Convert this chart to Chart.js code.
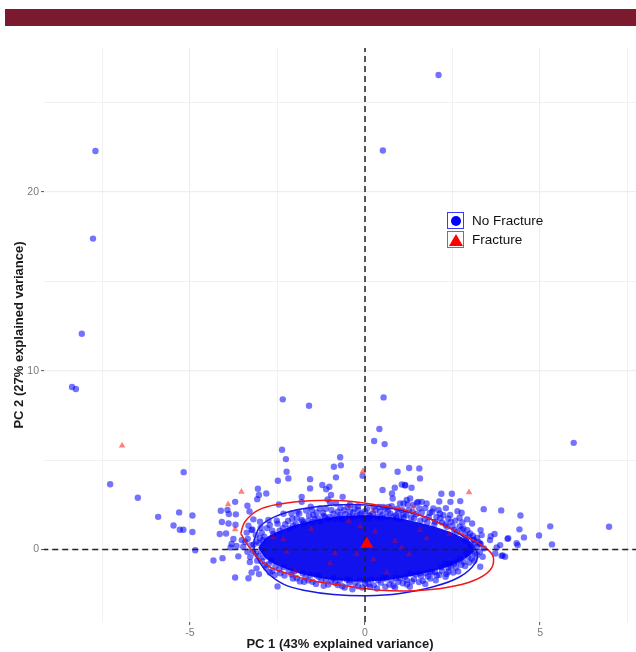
<!DOCTYPE html>
<html>
<head>
<meta charset="utf-8">
<title>PCA fracture</title>
<script src="https://cdn.jsdelivr.net/npm/chart.js@4/dist/chart.umd.js"></script>
<style>
    body { margin: 0; background: #fff; font-family: "Liberation Sans", Arial, sans-serif; }
    #wrap { position: relative; width: 636px; height: 652px; overflow: hidden; }
    #banner { position: absolute; left: 5px; top: 9px; width: 631px; height: 17px; background: #7b1a2f; }
    .key { position: absolute; left: 447px; width: 15px; height: 15px; border: 1.5px solid; }
    .key-blue { top: 212px; border-color: #3a3aff; }
    .key-red { top: 231px; border-color: #ff3a3a; }
    .dot { position: absolute; left: 2.5px; top: 2.5px; width: 10px; height: 10px; border-radius: 50%; background: #0000ff; }
    .tri { position: absolute; left: 0.5px; top: 1.5px; width: 0; height: 0; border-left: 7px solid transparent; border-right: 7px solid transparent; border-bottom: 12px solid #ff0000; }
    .label { position: absolute; left: 472px; font-size: 13.5px; color: #111; line-height: 16px; }
</style>
</head>
<body>
<div id="wrap">
    <canvas id="chart" width="636" height="652"></canvas>
    <div id="banner"></div>
    <div class="key key-blue"><div class="dot"></div></div>
    <div class="key key-red"><div class="tri"></div></div>
    <div class="label" style="top:213px">No Fracture</div>
    <div class="label" style="top:232px">Fracture</div>
</div>
<script>
// Axis setup
const xBounds = [-9.17, 7.74];
const yBounds = [-4.05, 28.05];
const xTicks = [-7.5, -5, -2.5, 0, 2.5, 5, 7.5];
const yTicks = [0, 5, 10, 15, 20, 25];
const xLabelled = [-5, 0, 5];
const yLabelled = [0, 10, 20];
const xTitle = 'PC 1 (43% explained variance)';
const yTitle = 'PC 2 (27% explained variance)';

// No Fracture points
const farPoints = [
    [-7.70, 22.29], [-7.77, 17.39], [-8.09, 12.07], [-8.37, 9.09], [-8.26, 8.98],
    [2.10, 26.54], [0.51, 22.32], [-2.35, 8.40], [-1.60, 8.04], [0.53, 8.51],
    [0.41, 6.74], [0.26, 6.07], [0.56, 5.90], [5.96, 5.97], [6.97, 1.28],
    [-7.28, 3.65], [-6.49, 2.90], [-5.18, 4.33], [-5.91, 1.83], [-5.31, 2.08],
    [-4.93, 1.91], [-5.47, 1.35], [-5.29, 1.11], [-5.19, 1.11], [-4.93, 0.98], [-4.85, -0.04]
];
const upperPoints = [
    [-2.37, 5.58], [-2.26, 5.06], [-0.71, 5.16], [-0.89, 4.63], [-0.69, 4.71],
    [0.52, 4.71], [0.93, 4.35], [1.26, 4.56], [1.55, 4.54], [-2.24, 4.35],
    [-2.19, 3.98], [-2.49, 3.85], [-1.57, 3.94], [-0.83, 4.04], [-0.07, 4.13], [1.57, 3.98],
    [-1.22, 3.61], [-1.02, 3.51], [-1.11, 3.37], [0.50, 3.33], [1.05, 3.64], [1.15, 3.59],
    [0.85, 3.46], [0.77, 3.14], [0.79, 2.86], [-0.97, 3.05], [-1.07, 2.81], [-0.64, 2.95],
    [-1.00, 2.64], [-1.55, 2.40], [-1.29, 2.30], [-0.83, 2.58], [-0.43, 2.49], [-0.19, 2.21],
    [0.24, 2.39], [0.52, 2.39], [0.67, 2.39], [1.00, 2.58], [1.19, 2.77], [-1.81, 2.95],
    [-1.81, 1.65], [-1.48, 1.93], [-1.14, 1.80], [-0.71, 1.93], [-0.43, 2.12], [0.10, 1.93],
    [0.43, 2.12], [0.90, 1.74], [1.10, 1.98], [-1.81, 2.67], [-1.57, 3.42]
];
const leftPoints = [
    [-3.06, 3.40], [-3.03, 3.05], [-3.08, 2.82], [-2.82, 3.14], [-3.71, 2.67], [-3.36, 2.45],
    [-3.30, 2.13], [-4.12, 2.17], [-3.93, 2.21], [-3.89, 1.99], [-3.69, 1.97], [-2.46, 2.52],
    [-4.09, 1.54], [-3.90, 1.46], [-3.70, 1.39], [-4.15, 0.87], [-3.97, 0.90], [-3.33, 1.33],
    [-3.24, 1.09], [-3.19, 1.69], [-3.00, 1.56], [-3.76, 0.59], [-3.52, 0.53], [-3.81, 0.31],
    [-3.67, 0.20], [-3.84, 0.12], [-3.48, 0.16], [-4.33, -0.61], [-4.07, -0.48], [-3.62, -0.38],
    [-3.29, -0.70], [-3.71, -1.56], [-3.33, -1.60], [-3.24, -1.28], [-3.03, -1.37], [-2.50, -2.06],
    [-3.10, -1.05], [-2.86, -0.87], [-2.76, 1.65], [-2.33, 2.00], [-2.10, 2.02], [-1.93, 2.11]
];
const rightPoints = [
    [5.29, 1.30], [5.34, 0.29], [4.97, 0.79], [4.54, 0.68], [4.41, 1.13], [4.44, 1.91],
    [3.89, 2.19], [4.09, 0.63], [4.33, 0.36], [4.36, 0.25], [3.86, 0.25], [3.93, -0.33], [4.00, -0.40],
    [1.14, 3.61], [1.33, 3.46], [2.18, 3.12], [2.48, 3.12], [2.12, 2.69], [2.44, 2.67], [2.72, 2.71],
    [1.29, 2.86], [2.31, 2.32], [3.39, 2.26], [2.64, 2.15], [2.76, 2.06], [2.70, 1.78], [2.92, 1.69],
    [3.06, 1.46], [3.30, 1.09], [3.70, 0.87], [3.59, 0.75], [4.07, 0.60], [3.57, 0.53], [3.33, 0.81],
    [3.76, 0.12], [3.40, 0.07], [3.29, 0.34], [3.90, -0.35], [3.72, -0.22], [3.36, -0.40], [2.95, -0.40],
    [3.29, -0.96], [2.81, -0.68], [2.62, -0.68], [2.43, -0.77], [2.29, -0.77], [2.38, -1.24], [2.33, -1.37],
    [2.00, -1.24], [1.86, -1.24], [1.57, -1.33], [1.29, -1.33], [1.52, 2.67], [1.62, 2.67], [1.76, 2.58],
    [1.95, 2.30], [1.10, 2.58], [1.38, 2.49], [2.43, 1.93], [2.14, 2.02], [2.81, 1.18], [3.10, 0.53],
    [3.19, 0.16], [3.05, -0.12]
];
const rimPoints = [
    [-2.95, 0.95], [-2.80, 1.20], [-2.65, 1.05], [-2.50, 1.45], [-2.35, 1.20], [-2.20, 1.60], [-2.05, 1.35],
    [-1.95, 1.75], [-1.75, 1.45], [-1.60, 1.90], [-1.50, 1.55], [-1.35, 1.75], [-1.20, 2.05], [-1.05, 1.70],
    [-0.90, 2.00], [-0.75, 1.80], [-0.60, 2.20], [-0.45, 1.85], [-0.30, 2.30], [-0.15, 1.95], [0.00, 2.15],
    [0.15, 1.90], [0.30, 2.20], [0.50, 1.95], [0.65, 2.15], [0.80, 1.85], [0.95, 2.05], [1.10, 1.80],
    [1.25, 2.20], [1.40, 1.75], [1.55, 2.30], [1.70, 1.70], [1.85, 2.05], [2.00, 1.55], [2.15, 1.75],
    [2.30, 1.40], [2.45, 1.55], [2.55, 1.10], [2.70, 1.30], [2.85, 0.85], [3.00, 0.90], [3.10, 0.55],
    [3.20, 0.65], [3.30, 0.30], [3.20, -0.30], [3.05, -0.50], [2.90, -0.20], [2.75, -0.85], [2.60, -1.00],
    [2.45, -0.95], [2.20, -1.20], [2.05, -1.45], [1.80, -1.50], [1.65, -1.75], [1.40, -1.65], [1.20, -1.95],
    [0.95, -1.80], [0.70, -1.95], [0.45, -1.85], [0.25, -2.00], [0.00, -1.90], [-0.20, -2.05], [-0.45, -1.85],
    [-0.65, -2.05], [-0.85, -1.85], [-1.05, -1.95], [-1.25, -1.70], [-1.50, -1.80], [-1.70, -1.55],
    [-1.95, -1.60], [-2.10, -1.40], [-2.30, -1.45], [-2.45, -1.10], [-2.65, -1.20], [-2.75, -0.80],
    [-2.95, -0.65], [-3.05, -0.35], [-3.20, -0.10], [-3.25, 0.25], [-3.10, 0.45], [-3.35, 0.60], [-3.00, 0.65],
    [0.81, -2.02], [0.10, -1.93], [1.19, -1.71], [1.00, -1.60], [0.52, -1.60], [-0.43, -1.71],
    [-0.90, -1.60], [-1.38, -1.43], [-1.74, -1.80]
];
const leftBandPoints = [
    [-3.38, 0.95], [-3.22, 1.12], [-3.12, 0.82], [-2.98, 1.22], [-2.88, 0.72], [-2.72, 1.38], [-2.62, 0.88],
    [-2.52, 1.62], [-2.44, 1.05], [-2.28, 1.42], [-2.16, 1.18], [-3.42, 0.42], [-3.18, 0.28], [-3.02, 0.36],
    [-2.92, 0.52], [-3.36, -0.12], [-3.12, -0.22], [-2.96, -0.08], [-3.28, -0.42], [-3.08, -0.62], [-2.90, -0.42],
    [-2.82, -1.02], [-2.68, -0.62], [-2.56, -0.92], [-2.42, -1.32], [-2.32, -0.98], [-2.18, -1.18], [-2.58, -1.42],
    [-2.72, -1.28]
];
const topBandPoints = [
    [-2.08, 1.72], [-1.98, 1.42], [-1.88, 2.02], [-1.78, 1.58], [-1.68, 2.18], [-1.62, 1.62], [-1.52, 2.22],
    [-1.44, 1.72], [-1.38, 2.08], [-1.28, 1.58], [-1.18, 1.88], [-1.12, 2.28], [-1.02, 1.82], [-0.96, 2.22],
    [-0.86, 1.72], [-0.78, 2.12], [-0.70, 2.32], [-0.66, 1.68], [-0.56, 1.98], [-0.50, 2.38], [-0.38, 1.78],
    [-0.34, 2.08], [-0.24, 1.88], [-0.20, 2.42], [-0.10, 2.02], [-0.04, 1.78], [0.06, 2.28], [0.12, 1.76],
    [0.22, 2.02], [0.34, 1.82], [0.40, 2.38], [0.46, 1.78], [0.58, 2.28], [0.62, 1.82], [0.72, 2.02], [0.76, 2.42],
    [0.88, 1.92], [0.92, 2.28], [1.02, 1.72], [1.06, 2.22], [1.18, 1.92], [1.22, 2.52], [1.32, 1.78], [1.36, 2.12],
    [1.46, 1.98], [1.48, 2.62], [1.58, 1.62], [1.62, 2.08], [1.72, 2.32], [1.78, 1.52], [1.82, 1.82], [1.92, 2.12],
    [1.98, 1.42], [2.04, 1.82], [2.10, 2.22], [2.20, 1.52], [2.24, 1.92], [2.34, 1.28], [2.38, 1.72], [2.50, 1.32],
    [2.58, 1.62], [2.62, 0.98], [2.76, 1.12], [2.78, 1.52], [2.92, 1.08], [2.96, 0.72], [3.08, 0.78], [3.14, 0.32],
    [3.24, 0.42], [2.88, 0.50], [3.02, 0.22]
];
const lowerBandPoints = [
    [3.28, -0.12], [3.14, -0.22], [3.12, -0.62], [2.98, -0.72], [2.86, -0.92], [2.72, -0.52], [2.66, -1.22],
    [2.54, -0.78], [2.52, -1.28], [2.38, -1.02], [2.30, -1.52], [2.18, -0.98], [2.12, -1.42], [2.02, -1.72],
    [1.92, -1.28], [1.86, -1.62], [1.74, -1.32], [1.72, -1.92], [1.60, -1.48], [1.54, -1.82], [1.46, -1.38],
    [1.34, -1.78], [1.28, -2.08], [1.14, -1.52], [1.08, -1.88], [0.88, -1.58], [0.86, -2.12], [0.76, -1.72],
    [0.60, -1.62], [0.58, -2.08], [0.38, -1.72], [0.34, -2.18], [0.18, -1.68], [0.14, -2.08], [0.02, -1.72],
    [-0.08, -2.12], [-0.14, -1.72], [-0.28, -1.88], [-0.36, -2.22], [-0.52, -1.68], [-0.58, -2.12], [-0.72, -1.72],
    [-0.78, -1.98], [-0.96, -1.72], [-1.12, -1.68], [-1.18, -2.02], [-1.32, -1.52], [-1.40, -1.92], [-1.56, -1.42],
    [-1.62, -1.72], [-1.78, -1.32], [-1.86, -1.78], [-2.02, -1.22], [-2.06, -1.62]
];

// Outline of the part of the cloud where the dots overlap into solid blue
const solidCloud = [
    [-3.05, 0.10], [-2.80, 0.70], [-2.30, 1.15], [-1.80, 1.48], [-0.90, 1.82], [0.05, 1.92], [1.00, 1.74],
    [1.95, 1.30], [2.60, 0.85], [3.08, 0.30], [3.08, -0.15], [2.60, -0.78], [1.95, -1.20], [1.00, -1.60],
    [0.05, -1.78], [-0.90, -1.70], [-1.80, -1.38], [-2.30, -1.05], [-2.80, -0.55], [-3.05, 0.10]
];

// Fracture points
const fractureFringe = [
    [-6.94, 5.81], [-3.53, 3.23], [-3.91, 2.53], [-3.71, 1.13], [-0.06, 4.39], [2.97, 3.20]
];
const fractureInCloud = [
    [-2.62, 0.68], [-2.33, 0.57], [-2.24, -0.12], [-2.00, -1.20], [-1.54, 1.15], [-0.14, 1.28],
    [0.22, 2.17], [-0.48, 2.49], [-0.46, 1.59], [-0.86, -0.21], [0.86, 0.48], [1.05, 0.10],
    [1.26, -0.27], [1.57, 1.09], [1.76, 0.63], [2.41, 0.87], [0.62, -1.28], [0.24, -0.55],
    [0.29, 1.00], [1.38, 2.39], [-0.24, -0.27], [-1.00, -0.77]
];
const fractureMean = [[0.05, 0.31]];

// Ellipses
const blueEllipse = [
    [-3.17, 0.53], [-3.00, 1.28], [-2.57, 1.84], [-1.86, 2.25], [-0.90, 2.49], [0.05, 2.49], [1.00, 2.21],
    [1.95, 1.65], [2.81, 0.72], [3.19, -0.12], [3.14, -0.77], [2.71, -1.52], [1.95, -2.08], [1.00, -2.45],
    [0.05, -2.58], [-0.90, -2.51], [-1.67, -2.30], [-2.33, -1.93], [-2.81, -1.24], [-3.14, -0.21], [-3.17, 0.53]
];
const redEllipse = [
    [-3.55, 0.90], [-3.43, 1.56], [-3.05, 2.21], [-2.43, 2.55], [-1.57, 2.73], [-0.62, 2.73], [0.33, 2.49],
    [1.29, 2.12], [2.24, 1.37], [3.00, 0.62], [3.52, -0.03], [3.67, -0.49], [3.57, -1.15], [3.09, -1.74],
    [2.33, -2.12], [1.38, -2.30], [0.43, -2.27], [-0.52, -2.04], [-1.57, -1.71], [-2.24, -1.33], [-2.81, -0.87],
    [-3.29, 0.08], [-3.55, 0.90]
];

const toXY = list => list.map(p => ({ x: p[0], y: p[1] }));
const noFracture = [
    ...farPoints, ...upperPoints, ...leftPoints, ...rightPoints, ...rimPoints,
    ...leftBandPoints, ...topBandPoints, ...lowerBandPoints
];

// Dashed zero lines
function zeroLine(data) {
    return {
        data: toXY(data), showLine: true, pointRadius: 0, borderColor: '#222',
        borderWidth: 1.5, borderDash: [6, 4], order: 3
    };
}

function ellipseLine(data, color) {
    return {
        data: toXY(data), showLine: true, pointRadius: 0, borderColor: color,
        borderWidth: 1.5, tension: 0.4, order: 4
    };
}

function axisOptions(bounds, ticks, labelled, title, titlePadding) {
    return {
        type: 'linear',
        min: bounds[0],
        max: bounds[1],
        afterBuildTicks: scale => { scale.ticks = ticks.map(v => ({ value: v })); },
        ticks: {
            autoSkip: false,
            maxRotation: 0,
            color: '#7a7a7a',
            padding: 2,
            font: { family: '"Liberation Sans"', size: 10.5 },
            callback: value => labelled.includes(value) ? String(value) : ''
        },
        grid: {
            color: '#eeeeee',
            lineWidth: ctx => labelled.includes(ctx.tick.value) ? 1.2 : 0.8,
            tickColor: ctx => labelled.includes(ctx.tick.value) ? '#555' : 'transparent',
            tickLength: 3,
            tickWidth: 1
        },
        border: { display: false },
        title: {
            display: true,
            text: title,
            color: '#1a1a1a',
            padding: titlePadding,
            font: { family: '"Liberation Sans"', size: 13, weight: 'bold' }
        }
    };
}

const xAxis = axisOptions(xBounds, xTicks, xLabelled, xTitle, { top: 0, bottom: 0 });
xAxis.afterFit = scale => { scale.height = 30; };
const yAxis = axisOptions(yBounds, yTicks, yLabelled, yTitle, { top: 12, bottom: 0 });
yAxis.afterFit = scale => { scale.width = 44; };

new Chart(document.getElementById('chart').getContext('2d'), {
    type: 'scatter',
    data: {
        datasets: [
            { data: toXY(fractureMean), pointStyle: 'triangle', pointRadius: 7.5, backgroundColor: '#ff0000', borderWidth: 0, order: 1 },
            zeroLine([[xBounds[0] - 0.05, 0], [xBounds[1], 0]]),
            zeroLine([[0, yBounds[0]], [0, yBounds[1]]]),
            ellipseLine(redEllipse, '#f01818'),
            ellipseLine(blueEllipse, '#1818e8'),
            { data: toXY(fractureFringe), pointStyle: 'triangle', pointRadius: 3.8, backgroundColor: 'rgba(255,0,0,0.5)', borderWidth: 0, order: 5 },
            { data: toXY(fractureInCloud), pointStyle: 'triangle', pointRadius: 3.8, backgroundColor: 'rgba(255,0,0,0.35)', borderWidth: 0, order: 5 },
            { data: toXY(noFracture), pointRadius: 3.2, backgroundColor: 'rgba(0,0,255,0.55)', borderWidth: 0, order: 6 },
            {
                data: toXY(solidCloud), showLine: true, pointRadius: 0, borderWidth: 0, tension: 0.3,
                fill: 'shape', backgroundColor: '#1212ee', order: 7
            }
        ]
    },
    options: {
        responsive: false,
        animation: false,
        layout: { autoPadding: false, padding: { top: 48, left: 0, right: 0, bottom: 0 } },
        plugins: { legend: { display: false }, tooltip: { enabled: false } },
        scales: { x: xAxis, y: yAxis }
    }
});
</script>
</body>
</html>
